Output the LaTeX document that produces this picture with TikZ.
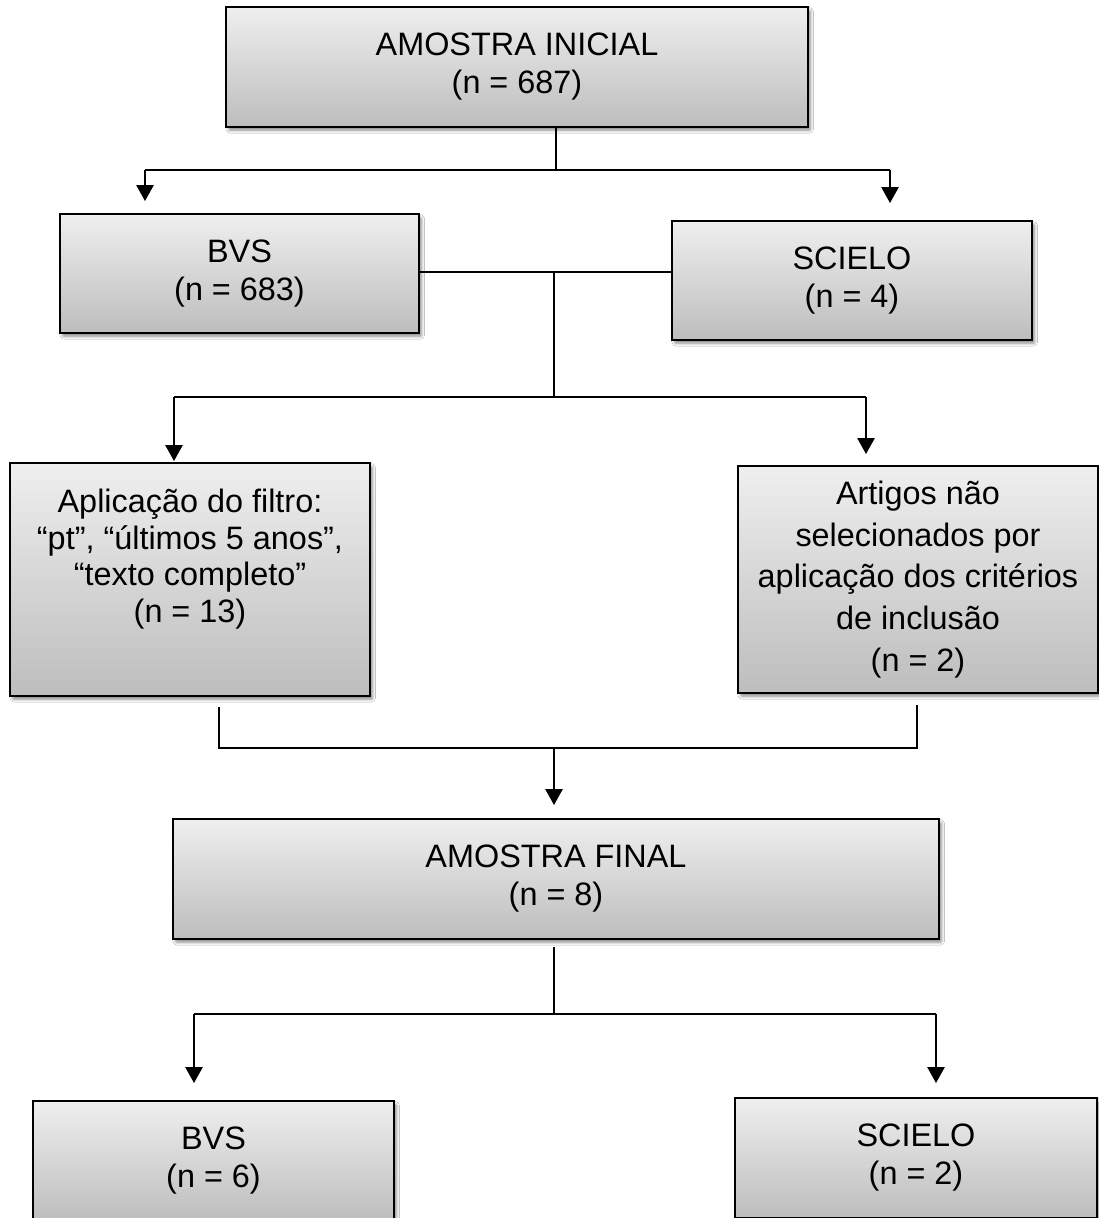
\documentclass[tikz,border=0pt]{standalone}
\usepackage{fontspec}
\setmainfont{Liberation Sans}
\usetikzlibrary{arrows.meta,shadows,shadows.blur,calc}
\definecolor{boxtop}{HTML}{EFEFEF}
\definecolor{boxbot}{HTML}{BDBDBD}
\begin{document}
\begin{tikzpicture}[x=0.75pt,y=-0.75pt,
  box/.style={draw=black, line width=1.5pt, inner sep=0pt, align=center,
    top color=boxtop, bottom color=boxbot,
    blur shadow={shadow xshift=2pt, shadow yshift=-2.5pt, shadow blur steps=6, shadow blur extra rounding=1pt, shadow opacity=45},
    font=\fontsize{24.3}{28.5}\selectfont},
  conn/.style={line width=1.3pt},
  arr/.style={line width=1.3pt, -{Triangle[width=13pt,length=12pt]}}]
\useasboundingbox (0,0) rectangle (1099,1218);
\fill[white] (0,0) rectangle (1099,1218);

% boxes
\node[box, minimum width=436.5pt, minimum height=90pt] (A) at (517,67) {AMOSTRA INICIAL\\(n = 687)};
\node[box, minimum width=269.25pt, minimum height=89.25pt] (BVS1) at (239.5,273.5) {BVS\\(n = 683)};
\node[box, minimum width=270pt, minimum height=89.25pt] (SCI1) at (852,280.5) {SCIELO\\(n = 4)};
\node[box, minimum width=270pt, minimum height=174.75pt, font=\fontsize{24.3}{27.4}\selectfont] (FIL) at (190,579.5) {Aplicação do filtro:\\“pt”, “últimos 5 anos”,\\“texto completo”\\(n = 13)\\\strut};
\node[box, minimum width=270pt, minimum height=170.25pt, font=\fontsize{24.3}{31.2}\selectfont] (ART) at (918,579.5) {Artigos não\\selecionados por\\aplicação dos critérios\\de inclusão\\(n = 2)};
\node[box, minimum width=574.5pt, minimum height=90pt] (FIN) at (556,879) {AMOSTRA FINAL\\(n = 8)};
\node[box, minimum width=270.75pt, minimum height=90pt] (BVS2) at (213.5,1161) {BVS\\(n = 6)};
\node[box, minimum width=271.5pt, minimum height=90pt] (SCI2) at (916,1158) {SCIELO\\(n = 2)};

% level 1
\coordinate (a1) at (556,170);
\coordinate (a1l) at (145,170);
\coordinate (a1r) at (890,170);
\coordinate (t1l) at (145,201);
\coordinate (t1r) at (890,203);
\draw[conn] (A.south -| a1) -- (a1);
\draw[conn] (a1l) -- (a1r);
\draw[arr] (a1l) -- (t1l);
\draw[arr] (a1r) -- (t1r);

% level 2
\coordinate (m1) at (554,272);
\coordinate (m2) at (554,397);
\coordinate (m2l) at (174,397);
\coordinate (m2r) at (866,397);
\coordinate (t2l) at (174,461);
\coordinate (t2r) at (866,454);
\draw[conn] (BVS1.east |- m1) -- (SCI1.west |- m1);
\draw[conn] (m1) -- (m2);
\draw[conn] (m2l) -- (m2r);
\draw[arr] (m2l) -- (t2l);
\draw[arr] (m2r) -- (t2r);

% level 3
\coordinate (f1) at (219,707);
\coordinate (f2) at (219,748);
\coordinate (g1) at (917,705);
\coordinate (g2) at (917,748);
\coordinate (h1) at (554,748);
\coordinate (t3) at (554,805);
\draw[conn] (f1) -- (f2) -- (g2) -- (g1);
\draw[arr] (h1) -- (t3);

% level 4
\coordinate (k1) at (554,947);
\coordinate (k2) at (554,1014);
\coordinate (k2l) at (194,1014);
\coordinate (k2r) at (936,1014);
\coordinate (t4l) at (194,1083);
\coordinate (t4r) at (936,1083);
\draw[conn] (k1) -- (k2);
\draw[conn] (k2l) -- (k2r);
\draw[arr] (k2l) -- (t4l);
\draw[arr] (k2r) -- (t4r);
\end{tikzpicture}
\end{document}
